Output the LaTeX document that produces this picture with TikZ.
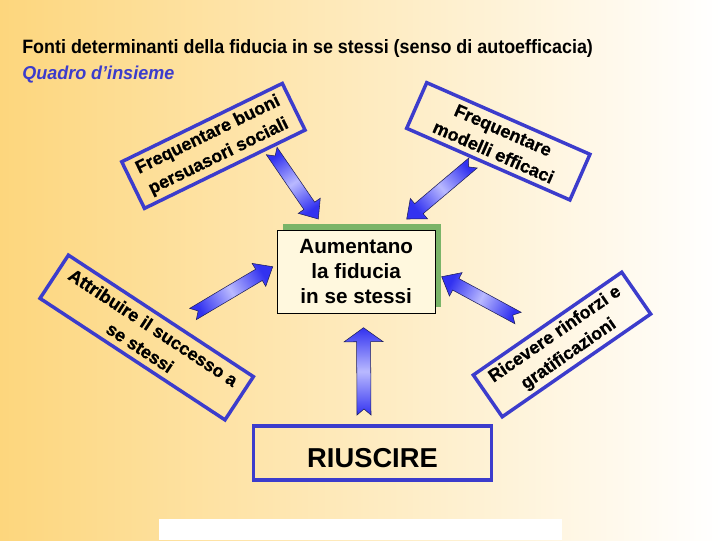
\documentclass[tikz,border=0pt]{standalone}
\usepackage{fontspec}
\setmainfont{Liberation Sans}
\newfontfamily\heavyfont{Liberation Sans}[BoldFeatures={FakeBold=0.8}]
\usetikzlibrary{calc}
\definecolor{bluebox}{RGB}{60,60,204}
\definecolor{arrdark}{RGB}{50,50,240}
\definecolor{arrlight}{RGB}{185,185,255}
\definecolor{arredge}{RGB}{30,30,90}
\definecolor{bgleft}{RGB}{253,214,125}
\definecolor{bgmid}{RGB}{255,237,202}
\definecolor{shadowgreen}{RGB}{122,180,104}
\definecolor{cream}{RGB}{255,248,222}
\newcommand{\blockarr}[6]{%
  \coordinate (ba-tl) at ($(#1)!#3!90:(#2)$);
  \coordinate (ba-tr) at ($(#1)!#3!-90:(#2)$);
  \coordinate (ba-h) at ($(#2)!#5!(#1)$);
  \coordinate (ba-hl) at ($(ba-h)!#3!90:(#2)$);
  \coordinate (ba-hr) at ($(ba-h)!#3!-90:(#2)$);
  \coordinate (ba-Hl) at ($(ba-h)!#4!90:(#2)$);
  \coordinate (ba-Hr) at ($(ba-h)!#4!-90:(#2)$);
  \coordinate (ba-n) at ($(#1)!4.5pt!(#2)$);
  \shadedraw[barrow, shading angle=#6] (ba-tl) -- (ba-hl) -- (ba-Hl) -- (#2) -- (ba-Hr) -- (ba-hr) -- (ba-tr) -- (ba-n) -- cycle;
}
\begin{document}
\begin{tikzpicture}[x=0.75pt,y=-0.75pt,
  bbox/.style={draw=bluebox, line width=2.6pt, align=center, inner sep=0pt,
    font=\heavyfont\fontsize{13.5}{18}\selectfont\bfseries},
  barrow/.style={draw=arredge, line width=0.4pt, left color=arrdark, right color=arrdark, middle color=arrlight}]
\useasboundingbox (0,0) rectangle (720,540);
\shade[left color=bgleft, middle color=bgmid, right color=white] (0,0) rectangle (720,540);
\fill[white] (159,519) rectangle (562,540);

\node[anchor=base west, inner sep=0pt] (title) at (22,53)
  {\resizebox{428pt}{\height}{\fontsize{14.5}{17}\selectfont\bfseries Fonti determinanti della fiducia in se stessi (senso di autoefficacia)}};
\node[anchor=base west, inner sep=0pt, text=bluebox] (sub) at (22,79)
  {\resizebox{114pt}{\height}{\fontsize{14}{17}\selectfont\bfseries\itshape Quadro d’insieme}};

\node[bbox, rotate=26, minimum width=134pt, minimum height=38.9pt] (persuasori) at (213.4,145.9)
  {Frequentare buoni\\persuasori sociali};
\node[bbox, rotate=-23.7, minimum width=133.7pt, minimum height=37.4pt] (modelli) at (498.3,141.3)
  {Frequentare\\modelli efficaci};
\node[bbox, rotate=-33.3, minimum width=166pt, minimum height=38.8pt] (attribuire) at (146.7,337.5)
  {Attribuire il successo a\\se stessi};
\node[bbox, rotate=34.7, minimum width=135.4pt, minimum height=38.1pt] (ricevere) at (562,344.5)
  {Ricevere rinforzi e\\gratificazioni};

\node[fill=shadowgreen, minimum width=118.3pt, minimum height=62.5pt, inner sep=0pt] (fidshadow) at (362.2,265.7) {};
\node[draw=black, line width=0.6pt, fill=cream, minimum width=118.3pt, minimum height=62.5pt, inner sep=0pt,
  align=center, font=\fontsize{15.5}{18.9}\selectfont\bfseries] (fiducia) at (356.2,271.7)
  {Aumentano\\la fiducia\\in se stessi};

\node[draw=bluebox, line width=2.6pt, minimum width=178.8pt, minimum height=40.5pt, inner sep=0pt,
  text height=22.2pt, text depth=0pt, font=\fontsize{20.5}{24}\selectfont\bfseries] (riuscire) at (372.5,453) {RIUSCIRE};

\coordinate (a1t) at (271.7,151); \coordinate (a1h) at (318.3,219);
\coordinate (a2t) at (473,163);   \coordinate (a2h) at (406.7,219);
\coordinate (a3t) at (193,314);   \coordinate (a3h) at (272.7,266.7);
\coordinate (a4t) at (518,318);   \coordinate (a4h) at (441.7,276.7);
\coordinate (a5t) at (364,415);   \coordinate (a5h) at (363.5,327.7);
\blockarr{a1t}{a1h}{4.9pt}{10pt}{12pt}{34.4}
\blockarr{a2t}{a2h}{4.9pt}{10pt}{12pt}{130.2}
\blockarr{a3t}{a3h}{4.9pt}{10pt}{12pt}{120.7}
\blockarr{a4t}{a4h}{4.9pt}{10pt}{12pt}{61.6}
\blockarr{a5t}{a5h}{5.25pt}{14.6pt}{10.5pt}{0}
\end{tikzpicture}
\end{document}
